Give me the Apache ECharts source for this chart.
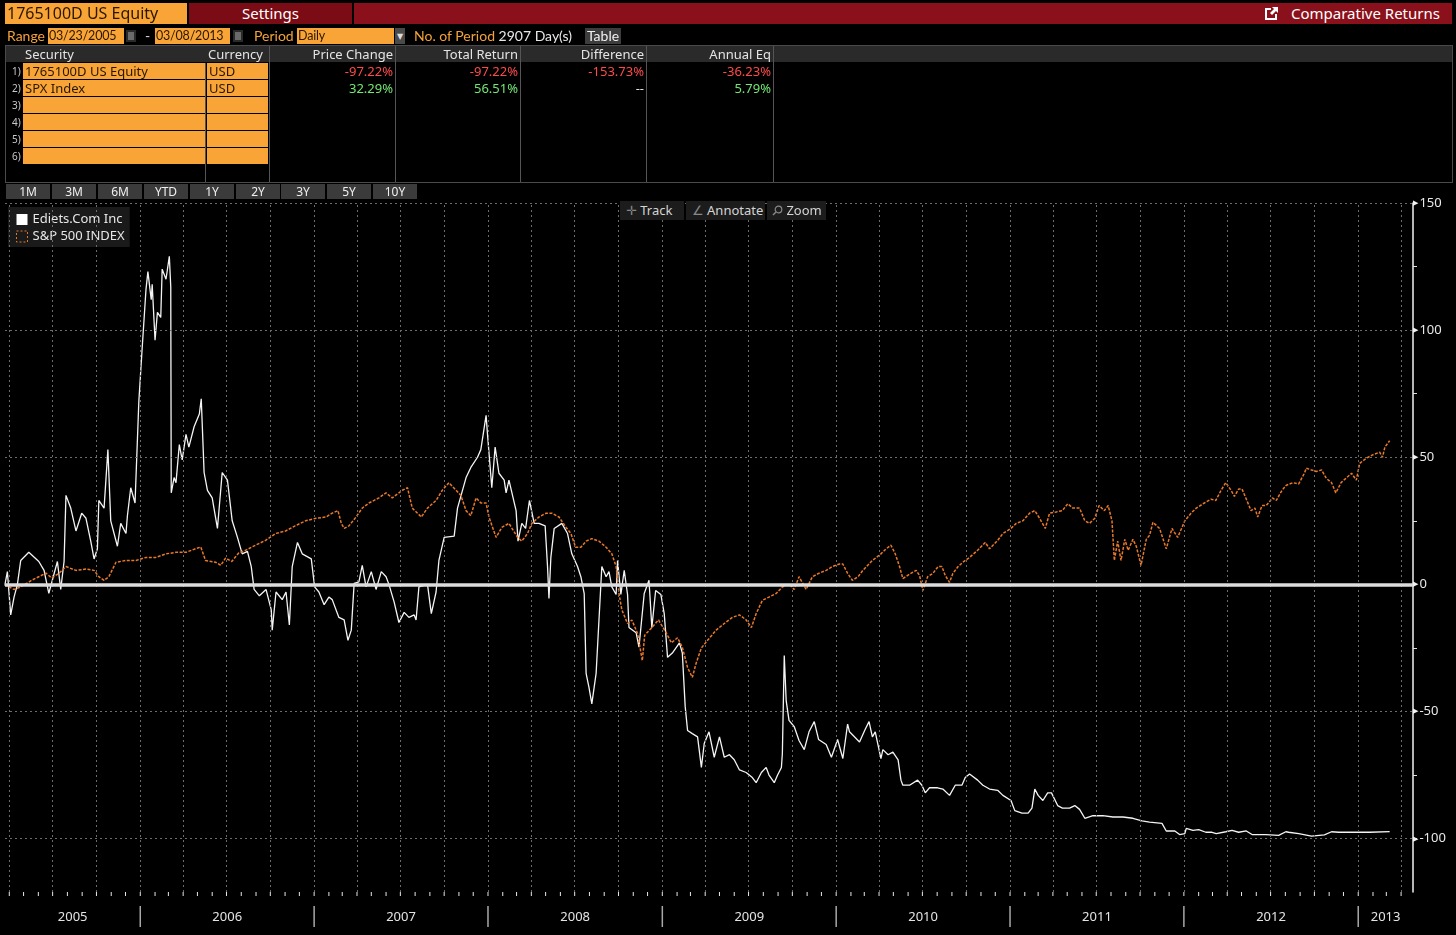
<!DOCTYPE html>
<html>
<head>
<meta charset="utf-8">
<script src="https://cdn.jsdelivr.net/npm/echarts@6/dist/echarts.min.js"></script>
<style>
html,body{margin:0;padding:0;background:#000;width:1456px;height:935px;overflow:hidden;font-family:"Noto Sans","DejaVu Sans",sans-serif;}
#main{position:absolute;left:0;top:0;width:1456px;height:935px;}
.a{position:absolute;box-sizing:border-box;white-space:nowrap;z-index:2;}
.org{background:#f8a436;color:#2b1700;}
.ot{color:#f5a238;}
.r2{font-family:Lato,"Noto Sans",sans-serif;font-size:14px;line-height:18px;top:27px;}
.inp{font-family:Lato,"Noto Sans",sans-serif;font-size:12.5px;letter-spacing:-0.2px;top:28px;height:16px;line-height:16px;padding-left:1px;overflow:hidden;}
.hd{color:#e4e4e4;font-size:13px;line-height:16px;}
.num{font-size:13px;line-height:16px;text-align:right;}
.red{color:#ff4a4a;}
.grn{color:#72e872;}
.btn{background:#3b3b3b;color:#f0f0f0;font-size:12px;line-height:15px;text-align:center;height:15px;top:184px;width:44px;}
.rn{color:#c8c8c8;font-size:10px;line-height:16px;left:12px;}
.vs{background:#555;width:1px;top:46px;height:136px;}
.tb{background:#1c1c1c;color:#d4d4d4;font-size:13px;line-height:19px;top:201px;height:19px;}
.cal{top:30px;width:10px;height:12px;background:#6a6a6a;border:2px solid #2a2a2a;}
</style>
</head>
<body>
<!-- title bar -->
<div class="a org" style="left:5px;top:3px;width:182px;height:21px;font-size:16px;line-height:21px;padding-left:2px;">1765100D US Equity</div>
<div class="a" style="left:189px;top:3px;width:163px;height:21px;background:#7b0c15;color:#fff;font-size:15px;line-height:20px;text-align:center;">Settings</div>
<div class="a" style="left:354px;top:3px;width:1098px;height:21px;background:#8a111b;"></div>
<div class="a" style="left:1264px;top:5px;height:17px;color:#fff;font-size:15px;line-height:17px;">
<svg width="15" height="15" viewBox="0 0 15 15" style="vertical-align:-2px;margin-right:12px"><path d="M1 2h6v2H3v8h8V8h2v6H1z" fill="#fff"/><path d="M8 1h6v6l-2-2-4 4-2-2 4-4z" fill="#fff"/></svg>Comparative Returns</div>

<!-- range row -->
<div class="a ot r2" style="left:7px;">Range</div>
<div class="a org inp" style="left:48px;width:76px;">03/23/2005</div>
<div class="a cal" style="left:126px;"></div>
<div class="a r2" style="left:145px;color:#ddd;">-</div>
<div class="a org inp" style="left:155px;width:75px;">03/08/2013</div>
<div class="a cal" style="left:233px;"></div>
<div class="a ot r2" style="left:254px;">Period</div>
<div class="a org inp" style="left:297px;width:97px;">Daily</div>
<div class="a" style="left:395px;top:28px;width:10px;height:16px;background:#4a4a4a;color:#ddd;font-size:8px;line-height:16px;text-align:center;">&#9660;</div>
<div class="a ot r2" style="left:414px;">No. of Period <span style="color:#e8e8e8">2907 Day(s)</span></div>
<div class="a r2" style="left:585px;top:28px;width:36px;height:16px;background:#3d3d3d;color:#f0f0f0;line-height:16px;text-align:center;">Table</div>

<!-- table -->
<div class="a" style="left:5px;top:45px;width:1448px;height:138px;border:1px solid #4a4a4a;"></div>
<div class="a" style="left:6px;top:46px;width:1446px;height:16px;background:#2a2a2a;"></div>
<div class="a hd" style="left:25px;top:46px;">Security</div>
<div class="a hd" style="left:208px;top:46px;">Currency</div>
<div class="a hd" style="left:270px;top:46px;width:123px;text-align:right;">Price Change</div>
<div class="a hd" style="left:396px;top:46px;width:122px;text-align:right;">Total Return</div>
<div class="a hd" style="left:521px;top:46px;width:123px;text-align:right;">Difference</div>
<div class="a hd" style="left:647px;top:46px;width:124px;text-align:right;">Annual Eq</div>
<div class="a vs" style="left:269px;"></div>
<div class="a vs" style="left:395px;"></div>
<div class="a vs" style="left:520px;"></div>
<div class="a vs" style="left:646px;"></div>
<div class="a vs" style="left:773px;"></div>
<div class="a" style="left:205px;top:63px;width:1px;height:119px;background:#555;"></div>

<div class="a rn" style="top:63px;">1)</div>
<div class="a org" style="left:23px;top:63px;width:182px;height:16px;font-size:13px;line-height:16px;padding-left:2px;">1765100D US Equity</div>
<div class="a org" style="left:207px;top:63px;width:61px;height:16px;font-size:13px;line-height:16px;padding-left:2px;">USD</div>
<div class="a num red" style="left:270px;top:63px;width:123px;">-97.22%</div>
<div class="a num red" style="left:396px;top:63px;width:122px;">-97.22%</div>
<div class="a num red" style="left:521px;top:63px;width:123px;">-153.73%</div>
<div class="a num red" style="left:647px;top:63px;width:124px;">-36.23%</div>

<div class="a rn" style="top:80px;">2)</div>
<div class="a org" style="left:23px;top:80px;width:182px;height:16px;font-size:13px;line-height:16px;padding-left:2px;">SPX Index</div>
<div class="a org" style="left:207px;top:80px;width:61px;height:16px;font-size:13px;line-height:16px;padding-left:2px;">USD</div>
<div class="a num grn" style="left:270px;top:80px;width:123px;">32.29%</div>
<div class="a num grn" style="left:396px;top:80px;width:122px;">56.51%</div>
<div class="a num" style="left:521px;top:80px;width:123px;color:#e0e0e0;">--</div>
<div class="a num grn" style="left:647px;top:80px;width:124px;">5.79%</div>

<div class="a rn" style="top:97px;">3)</div>
<div class="a org" style="left:23px;top:97px;width:182px;height:16px;"></div>
<div class="a org" style="left:207px;top:97px;width:61px;height:16px;"></div>
<div class="a rn" style="top:114px;">4)</div>
<div class="a org" style="left:23px;top:114px;width:182px;height:16px;"></div>
<div class="a org" style="left:207px;top:114px;width:61px;height:16px;"></div>
<div class="a rn" style="top:131px;">5)</div>
<div class="a org" style="left:23px;top:131px;width:182px;height:16px;"></div>
<div class="a org" style="left:207px;top:131px;width:61px;height:16px;"></div>
<div class="a rn" style="top:148px;">6)</div>
<div class="a org" style="left:23px;top:148px;width:182px;height:16px;"></div>
<div class="a org" style="left:207px;top:148px;width:61px;height:16px;"></div>

<!-- period buttons -->
<div class="a btn" style="left:6px;">1M</div>
<div class="a btn" style="left:52px;">3M</div>
<div class="a btn" style="left:98px;">6M</div>
<div class="a btn" style="left:144px;">YTD</div>
<div class="a btn" style="left:190px;">1Y</div>
<div class="a btn" style="left:236px;">2Y</div>
<div class="a btn" style="left:281px;">3Y</div>
<div class="a btn" style="left:327px;">5Y</div>
<div class="a btn" style="left:373px;">10Y</div>

<!-- chart toolbar -->
<div class="a tb" style="left:620px;width:64px;padding-left:6px;"><span style="color:#888">&#10011;</span> Track</div>
<div class="a tb" style="left:686px;width:79px;padding-left:6px;"><span style="color:#888">&#8736;</span> Annotate</div>
<div class="a tb" style="left:767px;width:59px;padding-left:5px;">
<svg width="11" height="11" viewBox="0 0 11 11" style="vertical-align:-1px"><circle cx="6.5" cy="4.5" r="3.3" fill="none" stroke="#888" stroke-width="1.2"/><path d="M4 7 L1 10" stroke="#888" stroke-width="1.5"/></svg> Zoom</div>

<div id="main"></div>
<script>
// Ediets.Com Inc, cumulative return in %
var ediDates = [
  '2005-03-23','2005-03-28','2005-04-04','2005-04-11','2005-04-18','2005-04-25','2005-05-12','2005-06-02','2005-06-13','2005-06-23',
  '2005-07-11','2005-07-18','2005-07-25','2005-07-29','2005-08-08','2005-08-19','2005-08-31','2005-09-09','2005-09-19','2005-09-26',
  '2005-10-03','2005-10-06','2005-10-17','2005-10-25','2005-10-31','2005-11-14','2005-11-21','2005-12-02','2005-12-05','2005-12-12',
  '2005-12-21','2005-12-29','2006-01-05','2006-01-13','2006-01-17','2006-01-24','2006-01-26','2006-02-01','2006-02-06','2006-02-13',
  '2006-02-16','2006-02-24','2006-03-03','2006-03-06','2006-03-07','2006-03-13','2006-03-17','2006-03-24','2006-03-30','2006-04-07',
  '2006-04-13','2006-04-24','2006-05-05','2006-05-09','2006-05-15','2006-05-22','2006-06-01','2006-06-12','2006-06-22','2006-07-03',
  '2006-07-13','2006-07-24','2006-08-03','2006-08-14','2006-08-22','2006-08-28','2006-09-08','2006-09-22','2006-10-03','2006-10-05',
  '2006-10-13','2006-10-26','2006-11-03','2006-11-10','2006-11-16','2006-11-27','2006-12-07','2006-12-26','2007-01-02','2007-01-11',
  '2007-01-22','2007-02-01','2007-02-08','2007-02-22','2007-03-05','2007-03-13','2007-03-20','2007-03-26','2007-04-05','2007-04-12',
  '2007-04-20','2007-05-01','2007-05-11','2007-05-22','2007-06-01','2007-06-07','2007-06-18','2007-06-28','2007-07-09','2007-07-19',
  '2007-07-30','2007-08-03','2007-08-09','2007-08-27','2007-09-04','2007-09-14','2007-09-20','2007-10-01','2007-10-22','2007-10-29',
  '2007-11-16','2007-11-26','2007-12-10','2007-12-17','2007-12-28','2007-12-31','2008-01-09','2008-01-16','2008-01-24','2008-02-04',
  '2008-02-08','2008-02-14','2008-02-29','2008-03-04','2008-03-12','2008-03-20','2008-03-28','2008-04-07','2008-04-17','2008-04-30',
  '2008-05-05','2008-05-08','2008-05-12','2008-05-19','2008-06-04','2008-06-16','2008-06-25','2008-07-07','2008-07-14','2008-07-21',
  '2008-07-25','2008-07-31','2008-08-06','2008-08-15','2008-08-21','2008-08-27','2008-09-05','2008-09-11','2008-09-17','2008-09-26',
  '2008-09-29','2008-10-06','2008-10-13','2008-10-20','2008-10-23','2008-11-07','2008-11-13','2008-11-24','2008-12-04','2008-12-10',
  '2008-12-18','2008-12-29','2009-01-05','2009-01-12','2009-01-22','2009-02-06','2009-02-12','2009-02-18','2009-02-23','2009-03-05',
  '2009-03-16','2009-03-24','2009-03-30','2009-04-09','2009-04-20','2009-05-01','2009-05-11','2009-05-22','2009-06-01','2009-06-12',
  '2009-06-26','2009-07-09','2009-07-17','2009-07-28','2009-08-07','2009-08-13','2009-08-24','2009-08-31','2009-09-08','2009-09-10',
  '2009-09-14','2009-09-18','2009-09-24','2009-10-05','2009-10-15','2009-10-26','2009-11-05','2009-11-16','2009-11-25','2009-12-11',
  '2009-12-22','2010-01-04','2010-01-15','2010-01-25','2010-01-29','2010-02-19','2010-03-03','2010-03-11','2010-03-18','2010-03-24',
  '2010-04-05','2010-04-09','2010-04-20','2010-04-30','2010-05-11','2010-05-17','2010-05-21','2010-06-04','2010-06-21','2010-06-30',
  '2010-07-07','2010-07-16','2010-08-02','2010-08-13','2010-08-27','2010-09-08','2010-09-22','2010-09-29','2010-10-08','2010-10-25',
  '2010-11-05','2010-11-19','2010-12-06','2010-12-17','2011-01-03','2011-01-11','2011-01-26','2011-02-08','2011-02-16','2011-02-22',
  '2011-03-01','2011-03-11','2011-03-21','2011-03-29','2011-04-11','2011-04-21','2011-05-06','2011-05-17','2011-05-27','2011-06-07',
  '2011-06-24','2011-07-15','2011-08-05','2011-08-26','2011-09-16','2011-10-05','2011-10-21','2011-11-16','2011-11-25','2011-12-13',
  '2011-12-23','2012-01-03','2012-01-06','2012-01-20','2012-02-01','2012-02-16','2012-02-29','2012-03-09','2012-03-29','2012-04-11',
  '2012-04-25','2012-05-11','2012-05-23','2012-06-21','2012-07-18','2012-08-02','2012-08-08','2012-08-29','2012-09-25','2012-10-22',
  '2012-11-06','2012-11-21','2012-12-18','2013-01-25','2013-03-08'
];
var ediValues = [
  0, 5, -12, -5, 0, 9.4, 12.6, 9, 5.5, -3.5,
  9, -2, 9, 35, 30, 21, 28, 26, 17, 10,
  14, 33, 30, 53, 25, 15, 24, 20, 27, 38,
  32, 72, 93, 116, 123, 112, 118, 96, 107, 105,
  124, 120, 129, 117, 36, 42, 40, 55, 49, 59,
  54, 62, 67, 73, 44, 37, 34, 22, 44, 41,
  25, 18.5, 12, 13, 7, -2, -4.5, -2, -10, -18,
  -3, -6, -3, -16, 7, 16.5, 12, 10, -1, -3,
  -8, -5, -6, -13, -14, -22, -18, 0.4, 1, 7.5,
  -1, 5, -2, 5, 3, 0, -7, -15, -11, -13,
  -12, -14, -1, 0, -11.5, -3, 9.4, 18.5, 19, 30,
  42, 46, 50, 53, 66.5, 59, 38, 54, 43.7, 41,
  36, 41, 29, 17, 24, 22, 33, 24, 24, 23,
  7, -5.5, 10.6, 22, 24, 20, 12, 7, 3, -3.6,
  -35, -40.5, -47, -35, -14, 7, 3, 5, -1, -4,
  9.4, -4, 5.5, -4, -17, -19, -24.7, -3.6, 1.6, -17,
  -2.4, -4, -11.5, -28.7, -27, -23, -27, -48, -57.5, -58.7,
  -60, -72, -62.6, -58, -68, -60, -68, -67, -69, -73,
  -74, -76, -78, -74, -72, -75, -78, -75, -72, -66.5,
  -28, -45.7, -53.5, -56, -61.4, -65, -58, -54, -61, -63,
  -68, -61, -68.5, -55, -58, -62, -57, -54, -60, -58,
  -68.5, -65, -67, -66, -69, -77, -79, -79, -77, -79,
  -82, -80, -80, -80.5, -83, -79, -79, -76, -74.6, -77,
  -79, -80.5, -81, -83, -85, -89, -90, -90, -88, -80.5,
  -83, -85, -82, -82, -87, -88, -88, -87, -88.5, -92,
  -91, -91, -91.5, -91.5, -92, -93, -93.5, -94, -97, -97,
  -98.4, -98, -96, -96.8, -96.5, -97.5, -97.5, -98, -97.3, -96.8,
  -97.5, -97, -98.4, -98.4, -98.7, -97.3, -97.5, -98, -99, -98.5,
  -97.3, -97.5, -97.5, -97.5, -97.22
];

// S&P 500 INDEX, cumulative total return in %
var spxDates = [
  '2005-03-23','2005-03-31','2005-04-11','2005-04-25','2005-05-18','2005-06-02','2005-06-17','2005-06-29','2005-07-14','2005-07-29',
  '2005-08-19','2005-09-09','2005-09-26','2005-10-06','2005-10-17','2005-10-27','2005-11-11','2005-12-02','2005-12-23','2006-01-13',
  '2006-02-03','2006-02-24','2006-03-17','2006-04-07','2006-04-27','2006-05-08','2006-05-18','2006-06-08','2006-06-19','2006-06-29',
  '2006-07-12','2006-07-27','2006-08-10','2006-08-31','2006-09-21','2006-10-12','2006-11-02','2006-11-22','2006-12-14','2007-01-05',
  '2007-01-26','2007-02-08','2007-02-20','2007-02-27','2007-03-05','2007-03-15','2007-03-30','2007-04-12','2007-04-26','2007-05-17',
  '2007-06-01','2007-06-14','2007-06-28','2007-07-05','2007-07-16','2007-07-26','2007-08-06','2007-08-14','2007-08-27','2007-09-14',
  '2007-09-27','2007-10-11','2007-10-26','2007-11-05','2007-11-16','2007-11-26','2007-12-07','2007-12-17','2007-12-28','2008-01-03',
  '2008-01-18','2008-01-30','2008-02-14','2008-03-03','2008-03-12','2008-03-24','2008-04-02','2008-04-17','2008-05-02','2008-05-14',
  '2008-05-29','2008-06-13','2008-06-23','2008-07-03','2008-07-14','2008-07-25','2008-08-06','2008-08-21','2008-09-05','2008-09-17',
  '2008-09-26','2008-10-02','2008-10-08','2008-10-20','2008-10-29','2008-11-10','2008-11-20','2008-11-25','2008-12-10','2008-12-24',
  '2009-01-09','2009-01-20','2009-02-02','2009-02-12','2009-02-23','2009-03-05','2009-03-13','2009-03-24','2009-04-06','2009-04-24',
  '2009-05-11','2009-05-28','2009-06-12','2009-06-26','2009-07-07','2009-07-17','2009-07-30','2009-08-13','2009-08-28','2009-09-10',
  '2009-09-24','2009-10-05','2009-10-15','2009-10-30','2009-11-12','2009-11-25','2009-12-11','2009-12-24','2010-01-08','2010-01-15',
  '2010-01-25','2010-02-04','2010-02-16','2010-02-26','2010-03-18','2010-04-05','2010-04-16','2010-04-26','2010-05-05','2010-05-14',
  '2010-05-21','2010-06-04','2010-06-18','2010-06-25','2010-07-02','2010-07-12','2010-07-23','2010-08-03','2010-08-11','2010-08-18',
  '2010-08-27','2010-09-03','2010-09-14','2010-09-24','2010-10-08','2010-10-25','2010-11-10','2010-11-19','2010-12-06','2010-12-17',
  '2011-01-03','2011-01-14','2011-01-28','2011-02-11','2011-02-22','2011-03-04','2011-03-16','2011-03-25','2011-04-08','2011-04-21',
  '2011-05-02','2011-05-13','2011-05-27','2011-06-07','2011-06-17','2011-06-28','2011-07-07','2011-07-18','2011-07-26','2011-08-03',
  '2011-08-08','2011-08-15','2011-08-22','2011-08-30','2011-09-06','2011-09-16','2011-09-23','2011-10-03','2011-10-14','2011-10-21',
  '2011-10-28','2011-11-11','2011-11-25','2011-12-07','2011-12-19','2012-01-03','2012-01-16','2012-01-27','2012-02-13','2012-02-27',
  '2012-03-08','2012-03-19','2012-03-29','2012-04-09','2012-04-16','2012-04-25','2012-05-02','2012-05-10','2012-05-21','2012-05-29',
  '2012-06-04','2012-06-13','2012-06-22','2012-07-05','2012-07-13','2012-07-25','2012-08-03','2012-08-17','2012-08-29','2012-09-10',
  '2012-09-14','2012-09-25','2012-10-05','2012-10-16','2012-10-26','2012-11-06','2012-11-15','2012-11-26','2012-12-06','2012-12-18',
  '2012-12-28','2013-01-04','2013-01-18','2013-02-01','2013-02-15','2013-02-21','2013-02-26','2013-03-08'
];
var spxValues = [
  0, -1, -2, -1, 1.6, 3, 4.4, 2.5, 4.3, 7,
  5.5, 6, 5.5, 3, 1.6, 3, 8.7, 9.4, 9.4, 10.6,
  10.6, 12, 12.6, 12.6, 14, 14.7, 9.4, 8.7, 7.5, 10.3,
  9, 12.4, 13.4, 15.4, 17.3, 20, 21, 23, 25, 26,
  26.5, 28, 29, 24, 22, 23, 26.5, 30, 32, 34,
  36, 34, 36, 37, 38, 30, 28, 26.5, 30, 33,
  37, 40, 37, 35, 29, 27, 34, 32, 32, 26.5,
  18.5, 22.4, 24, 18.5, 17, 20, 24, 26.5, 28, 28,
  26.5, 22.4, 20, 14.6, 14.6, 17, 18, 17, 14.6, 12,
  7, -3.6, -10, -15.4, -14, -19.3, -30, -20, -17, -14,
  -19, -23, -21, -24.7, -32.7, -36.6, -31, -25, -22, -18,
  -15.4, -13, -12, -14, -17, -11.5, -6.3, -5, -3.6, -1,
  0, -2, 3, -2, 3, 4.3, 5.5, 7, 8, 8,
  4.3, 1.6, 3, 5.5, 9.4, 12, 14, 15.4, 12, 7,
  2.3, 4, 5.5, 3.5, -2.4, 3, 4.3, 7, 7, 3.5,
  0.8, 4.3, 7, 8.7, 10.6, 13.4, 16.5, 14, 17.3, 20,
  22, 24, 25, 28, 29, 26, 22, 28, 28.5, 29,
  31.7, 30, 30, 25, 24, 26, 31, 29, 31, 25,
  9.4, 17, 9.4, 17.7, 13.4, 17.7, 15, 7.5, 17.7, 19.3,
  24.4, 22, 14, 22, 18.5, 25, 28, 30, 32, 33.5,
  33, 37, 40, 37, 34.6, 37.5, 37.5, 34, 29, 30,
  26.5, 31, 31, 34, 33, 37, 39, 40, 39.5, 43.7,
  45.7, 45, 44.4, 45, 41.7, 40, 36, 40, 41.7, 43.7,
  41, 47.6, 49.6, 51, 52, 50, 54, 56.5
];

var years = [2005, 2006, 2007, 2008, 2009, 2010, 2011, 2012, 2013];
var yearLabels = ['2005', '2006', '2007', '2008', '2009', '2010', '2011', '2012', '2013'];
var yLabelValues = [-100, -50, 0, 50, 100, 150];
var yTickValues = [-100, -75, -50, -25, 0, 25, 50, 75, 100, 125, 150];
var yGridValues = [-100, -50, 50, 100, 150];

var xMin = new Date(2005, 2, 23).getTime();
var xMax = new Date(2013, 3, 26).getTime();

// quarterly gridlines and monthly axis ticks
var quarterLines = [], monthTicks = [];
years.forEach(function (y) {
  for (var m = 0; m < 12; m++) {
    var t = new Date(y, m, 1).getTime();
    if (t <= xMin || t >= xMax) continue;
    monthTicks.push([t, 0]);
    if (m % 3 === 0) quarterLines.push({ xAxis: t });
  }
});

var font = '"Noto Sans","DejaVu Sans",sans-serif';
var chart = echarts.init(document.getElementById('main'));

var option = {
  backgroundColor: '#000',
  animation: false,
  textStyle: { fontFamily: font },
  grid: { left: 5, right: 43, top: 203, bottom: 43 },
  legend: {
    left: 8, top: 207, orient: 'vertical',
    itemWidth: 11, itemHeight: 11, itemGap: 4,
    padding: [6, 5, 4, 8],
    backgroundColor: '#1a1a1a',
    textStyle: { color: '#e6e6e6', fontSize: 13, fontFamily: font },
    data: [
      { name: 'Ediets.Com Inc', icon: 'rect', itemStyle: { color: '#ffffff', borderWidth: 0 } },
      { name: 'S&P 500 INDEX', icon: 'rect', itemStyle: { color: 'rgba(0,0,0,0)', borderColor: '#e0782c', borderWidth: 1, borderType: [2, 2] } }
    ]
  },
  xAxis: {
    type: 'time', min: xMin, max: xMax,
    axisLine: { show: true, lineStyle: { color: '#f2f2f2', width: 1.5 } },
    axisTick: { show: false },
    axisLabel: { show: false },
    splitLine: { show: false }
  },
  yAxis: {
    type: 'value', position: 'right', min: -121, max: 150,
    axisLine: { show: true, lineStyle: { color: '#f2f2f2', width: 1.5 } },
    axisTick: { show: true, length: 4, customValues: yTickValues, lineStyle: { color: '#e0e0e0' } },
    axisLabel: {
      customValues: yLabelValues, margin: 0,
      formatter: function (v) { return '{t|\u25B6}{v|' + v + '}'; },
      rich: {
        t: { fontSize: 7, color: '#f2f2f2', padding: [0, 1, 0, 0] },
        v: { fontSize: 13, color: '#e8e8e8', fontFamily: font }
      }
    },
    splitLine: { show: false }
  },
  series: [
    {
      name: 'grid', type: 'line', data: [], silent: true,
      markLine: {
        silent: true, symbol: 'none', animation: false,
        label: { show: false },
        lineStyle: { color: '#6c6c6c', type: [2, 3], width: 1 },
        data: quarterLines.concat(yGridValues.map(function (v) { return { yAxis: v }; }))
      }
    },
    {
      name: 'Ediets.Com Inc', type: 'line', showSymbol: false, symbol: 'none',
      data: ediDates.map(function (d, i) { return [d, ediValues[i]]; }),
      lineStyle: { color: '#f4f4f4', width: 1.3 },
      itemStyle: { color: '#ffffff' },
      z: 3
    },
    {
      name: 'S&P 500 INDEX', type: 'line', showSymbol: false, symbol: 'none',
      data: spxDates.map(function (d, i) { return [d, spxValues[i]]; }),
      lineStyle: { color: '#e8782a', width: 1.5, type: [3, 1.5] },
      itemStyle: { color: '#e8782a' },
      z: 4,
      markLine: {
        silent: true, symbol: 'none', animation: false,
        label: { show: false },
        lineStyle: { color: '#dcdcdc', type: 'solid', width: 3.5 },
        data: [{ yAxis: 0 }]
      }
    },
    {
      name: 'ticks', type: 'custom', silent: true, clip: false,
      data: monthTicks,
      renderItem: function (params, api) {
        var cs = params.coordSys;
        var x = api.coord([api.value(0), 0])[0];
        var b = cs.y + cs.height;
        return { type: 'line', shape: { x1: x, y1: b, x2: x, y2: b + 4 }, style: { stroke: '#e8e8e8', lineWidth: 1 } };
      }
    },
    {
      name: 'years', type: 'custom', silent: true, clip: false,
      data: years.map(function (y, i) { return [new Date(y, 0, 1).getTime(), 0, i]; }),
      renderItem: function (params, api) {
        var cs = params.coordSys;
        var i = api.value(2);
        var y = years[i];
        var s = Math.max(new Date(y, 0, 1).getTime(), xMin);
        var e = Math.min(new Date(y + 1, 0, 1).getTime(), xMax);
        var x0 = api.coord([s, 0])[0];
        var x1 = api.coord([e, 0])[0];
        var b = cs.y + cs.height;
        var kids = [{
          type: 'text',
          style: { text: yearLabels[i], x: (x0 + x1) / 2, y: b + 25, align: 'center', verticalAlign: 'middle', fill: '#e4e4e4', font: '13px ' + font }
        }];
        if (i > 0) {
          kids.push({ type: 'line', shape: { x1: x0, y1: b + 14, x2: x0, y2: b + 35 }, style: { stroke: '#a8a8a8', lineWidth: 1.5 } });
        }
        return { type: 'group', children: kids };
      }
    }
  ]
};
chart.setOption(option);
</script>
</body>
</html>
